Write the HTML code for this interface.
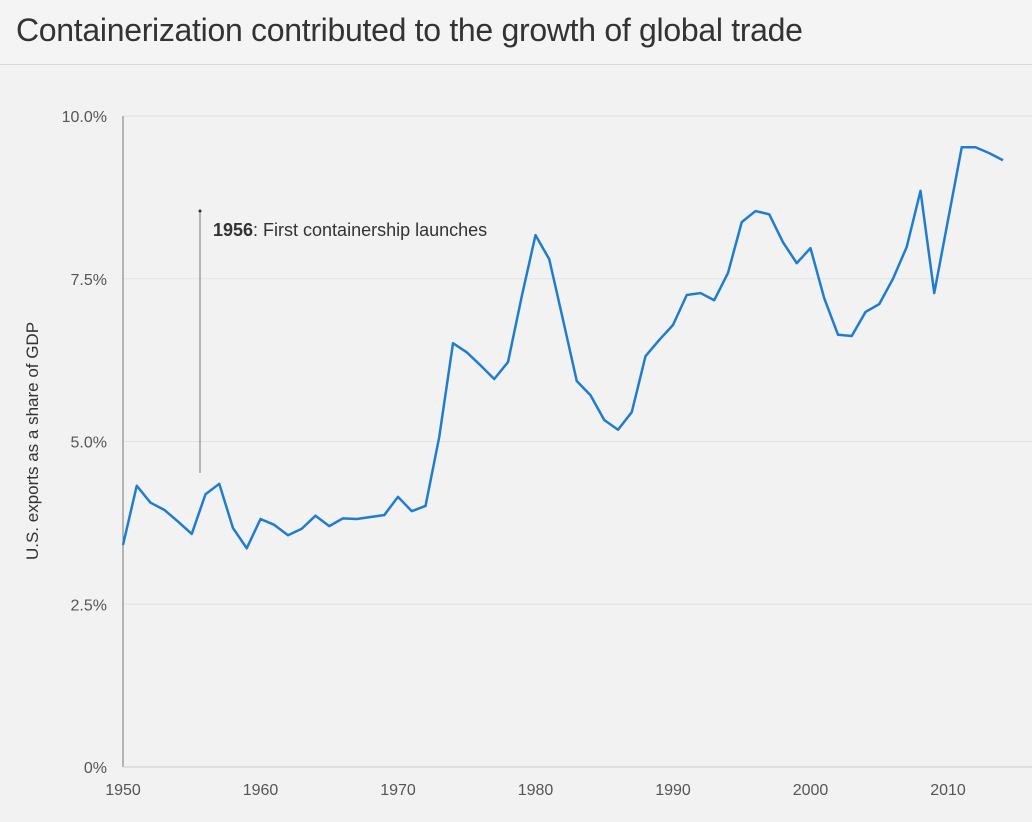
<!DOCTYPE html>
<html><head><meta charset="utf-8"><style>
html,body{margin:0;padding:0;}
body{width:1032px;height:822px;background:#f2f2f2;font-family:"Liberation Sans",sans-serif;overflow:hidden;position:relative;}
#hdr{position:absolute;left:0;top:0;width:1032px;height:64px;background:#f4f4f4;border-bottom:1px solid #d8d8d8;}
#title{position:absolute;left:16px;top:12px;font-size:32px;color:#333;font-weight:300;letter-spacing:-0.3px;}
svg{position:absolute;left:0;top:0;}
</style></head><body>
<div id="hdr"><div id="title">Containerization contributed to the growth of global trade</div></div>
<svg id="chart" width="1032" height="822"></svg>
<script>
const years=[1950,1951,1952,1953,1954,1955,1956,1957,1958,1959,1960,1961,1962,1963,1964,1965,1966,1967,1968,1969,1970,1971,1972,1973,1974,1975,1976,1977,1978,1979,1980,1981,1982,1983,1984,1985,1986,1987,1988,1989,1990,1991,1992,1993,1994,1995,1996,1997,1998,1999,2000,2001,2002,2003,2004,2005,2006,2007,2008,2009,2010,2011,2012,2013,2014];
const exportsShare=[3.41,4.32,4.06,3.95,3.77,3.58,4.19,4.35,3.67,3.36,3.81,3.72,3.56,3.66,3.86,3.70,3.82,3.81,3.84,3.87,4.15,3.93,4.01,5.07,6.51,6.37,6.17,5.96,6.22,7.23,8.17,7.80,6.87,5.93,5.71,5.33,5.18,5.45,6.31,6.56,6.79,7.25,7.28,7.17,7.59,8.37,8.54,8.49,8.06,7.74,7.97,7.20,6.64,6.62,6.99,7.11,7.50,7.99,8.85,7.28,8.40,9.52,9.52,9.43,9.32];
const yTicks=[0,2.5,5,7.5,10];
const yTickLabels=["0%","2.5%","5.0%","7.5%","10.0%"];
const xTicks=[1950,1960,1970,1980,1990,2000,2010];
const annYear=1955.6, annLabelBold="1956", annLabelRest=": First containership launches";
const NS="http://www.w3.org/2000/svg";
const svg=document.getElementById('chart');
const x=v=>123+(v-1950)*13.75;
const y=v=>767-v*65.1;
function mk(t,a){const e=document.createElementNS(NS,t);for(const k in a)e.setAttribute(k,a[k]);svg.appendChild(e);return e;}
yTicks.forEach((t,i)=>{
  if(t>0){const g=mk('line',{x1:123,x2:1032,y1:y(t),y2:y(t),stroke:'#e3e3e3','stroke-width':1});
  
  }
  const l=mk('text',{x:107,y:y(t)+6,'text-anchor':'end','font-size':16,fill:'#555'});
  l.textContent=yTickLabels[i];
  
  
});
const ax=mk('line',{x1:123,x2:123,y1:116,y2:767,stroke:'#777','stroke-width':1});


const xa=mk('line',{x1:123,x2:1032,y1:767,y2:767,stroke:'#ccc','stroke-width':1});


xTicks.forEach(t=>{
  const l=mk('text',{x:x(t),y:795,'text-anchor':'middle','font-size':16,fill:'#555'});
  l.textContent=t;
  
  
});
const yt=mk('text',{x:0,y:0,transform:'translate(38,441) rotate(-90)','text-anchor':'middle','font-size':17,fill:'#333'});
yt.textContent='U.S. exports as a share of GDP';


const al=mk('line',{x1:x(annYear),x2:x(annYear),y1:211,y2:473,stroke:'#777','stroke-width':1});


const ad=mk('circle',{cx:x(annYear),cy:211,r:1.5,fill:'#333'});


const at=mk('text',{x:x(annYear)+13,y:236,'font-size':18,fill:'#333'});
at.innerHTML='<tspan font-weight="bold">'+annLabelBold+'</tspan>'+annLabelRest;


const p=mk('polyline',{points:years.map((yr,i)=>x(yr)+','+y(exportsShare[i])).join(' '),fill:'none',stroke:'#1f7dd1','stroke-width':2.5,'stroke-linejoin':'round'});


</script>
</body></html>
